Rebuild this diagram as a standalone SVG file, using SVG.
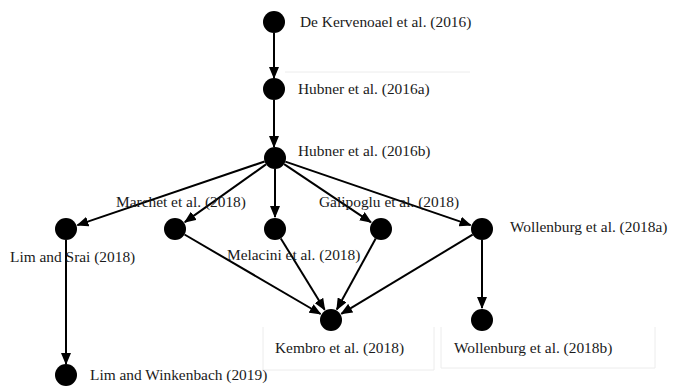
<svg xmlns="http://www.w3.org/2000/svg" width="683" height="386" viewBox="0 0 683 386">
<style>
.n{fill:#000}
.t{font-family:"Liberation Serif","Times New Roman",serif;font-size:15.4px;fill:#1a1a1a}
.e{stroke:#000;stroke-width:2;fill:none;marker-end:url(#ah)}
.f{stroke:#ececec;stroke-width:1;fill:none}
</style>
<defs>
<marker id="ah" markerUnits="userSpaceOnUse" markerWidth="12" markerHeight="10" refX="11" refY="5" orient="auto">
<path d="M0,0 L12,5 L0,10 z" fill="#000"/>
</marker>
</defs>
<rect width="683" height="386" fill="#fff"/>
<g id="artifacts">
<path class="f" d="M285,72 H470"/>
<path class="f" d="M263,327 V370 H434 V327"/>
<path class="f" d="M441,327 V368 H655 V327"/>
</g>
<g id="connectors">
<path class="e" d="M274,33 V78"/>
<path class="e" d="M274,100 V147"/>
<path class="e" d="M264.6,161.5 L77.4,225.1"/>
<path class="e" d="M266,164.4 L184.8,222.1"/>
<path class="e" d="M275,169 V217"/>
<path class="e" d="M284.1,164.1 L371,222.3"/>
<path class="e" d="M285.4,161.6 L470.6,225.1"/>
<path class="e" d="M66,240 V364"/>
<path class="e" d="M184.5,234.5 L320.6,314"/>
<path class="e" d="M280.8,238.4 L324.7,309.8"/>
<path class="e" d="M375.7,238.6 L336.8,309.5"/>
<path class="e" d="M472.6,234.7 L341.3,313.8"/>
<path class="e" d="M482,240 V308"/>
</g>
<g id="n1"><circle class="n" cx="274" cy="22" r="11"/><text class="t" x="300" y="27">De Kervenoael et al. (2016)</text></g>
<g id="n2"><circle class="n" cx="274" cy="89" r="11"/><text class="t" x="298" y="94">Hubner et al. (2016a)</text></g>
<g id="n3"><circle class="n" cx="275" cy="158" r="11"/><text class="t" x="298" y="156">Hubner et al. (2016b)</text></g>
<g id="n4"><circle class="n" cx="66" cy="229" r="11"/><text class="t" x="10" y="262">Lim and Srai (2018)</text></g>
<g id="n5"><circle class="n" cx="175" cy="229" r="11"/><text class="t" x="116" y="207">Marchet et al. (2018)</text></g>
<g id="n6"><circle class="n" cx="275" cy="229" r="11"/><text class="t" x="227" y="260">Melacini et al. (2018)</text></g>
<g id="n7"><circle class="n" cx="381" cy="229" r="11"/><text class="t" x="319" y="207">Galipoglu et al. (2018)</text></g>
<g id="n8"><circle class="n" cx="482" cy="229" r="11"/><text class="t" x="510" y="232">Wollenburg et al. (2018a)</text></g>
<g id="n9"><circle class="n" cx="331" cy="320" r="11"/><text class="t" x="275" y="353">Kembro et al. (2018)</text></g>
<g id="n10"><circle class="n" cx="482" cy="320" r="11"/><text class="t" x="454" y="353">Wollenburg et al. (2018b)</text></g>
<g id="n11"><circle class="n" cx="66" cy="375" r="11"/><text class="t" x="90" y="380">Lim and Winkenbach (2019)</text></g>
</svg>
